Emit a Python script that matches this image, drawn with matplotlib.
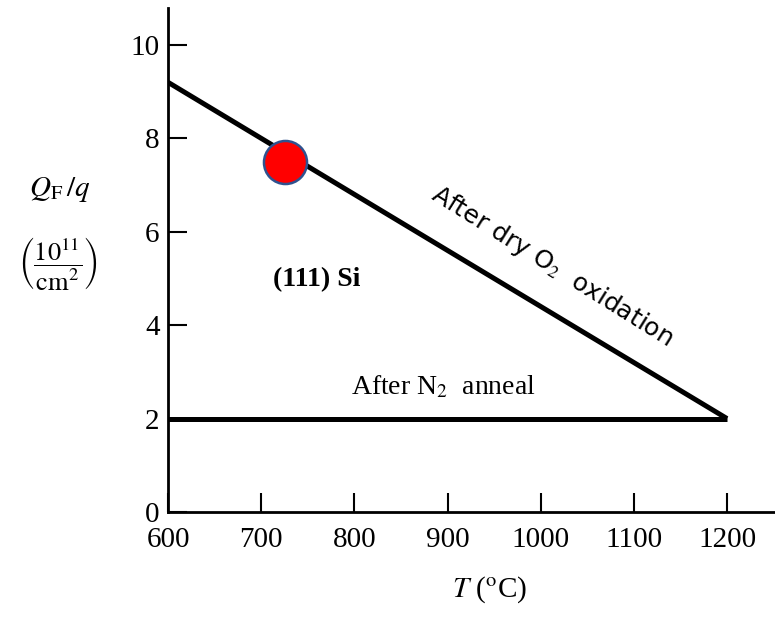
import matplotlib
matplotlib.use("Agg")
import matplotlib.pyplot as plt

# Data
temps = [600, 1200]
dry_o2 = [9.2, 2.0]
n2_anneal = [2.0, 2.0]
marker_point = (726, 7.5)
xticks = [600, 700, 800, 900, 1000, 1100, 1200]
yticks = [0, 2, 4, 6, 8, 10]

plt.rcParams['mathtext.fontset'] = 'stix'
plt.rcParams['font.family'] = ['Liberation Serif', 'DejaVu Serif']

fig = plt.figure(figsize=(7.75, 6.21), dpi=100)
ax = fig.add_axes([168/775, 109/621, 1 - 168/775, 504/621])
ax.set_xlim(600, 1251.5)
ax.set_ylim(0, 10.79)

ax.plot(temps, dry_o2, color='black', lw=3.6, solid_capstyle='butt', zorder=2)
ax.plot(temps, n2_anneal, color='black', lw=3.6, solid_capstyle='butt', zorder=2)
ax.plot([marker_point[0]], [marker_point[1]], 'o', ms=31, mfc='#ff0000',
        mec='#2f528f', mew=1.8, zorder=3)

for side in ['top', 'right']:
    ax.spines[side].set_visible(False)
for side in ['left', 'bottom']:
    ax.spines[side].set_linewidth(2.0)

ax.set_xticks(xticks)
ax.set_yticks(yticks)
ax.set_xticklabels([str(t) for t in xticks])
ax.set_yticklabels([str(t) for t in yticks])
ax.tick_params(axis='both', direction='in', length=14, width=1.5, labelsize=21)
ax.tick_params(axis='x', pad=11)
ax.tick_params(axis='y', pad=6)

ax.text(1012, 5.25, r'After dry O$_2$  oxidation', rotation=-32,
        rotation_mode='anchor', ha='center', va='center', fontsize=18,
        family=['DejaVu Sans'])
ax.text(896, 2.68, r'After N$_2$  anneal', ha='center', va='center', fontsize=20)
ax.text(760, 4.97, '(111) Si', ha='center', va='center', fontsize=20,
        fontweight='bold')

fig.text(490/775, 1 - 590/621, r'$T$ ($^{\rm o}$C)', ha='center', va='center',
         fontsize=21)
fig.text(60/775, 1 - 190/621, r'$Q_{\rm F}\,/q$', ha='center', va='center',
         fontsize=21)
fig.text(58/775, 1 - 264/621, r'$\left(\dfrac{10^{11}}{\rm cm^2}\right)$',
         ha='center', va='center', fontsize=19)

fig.savefig('out.png', dpi=100)
